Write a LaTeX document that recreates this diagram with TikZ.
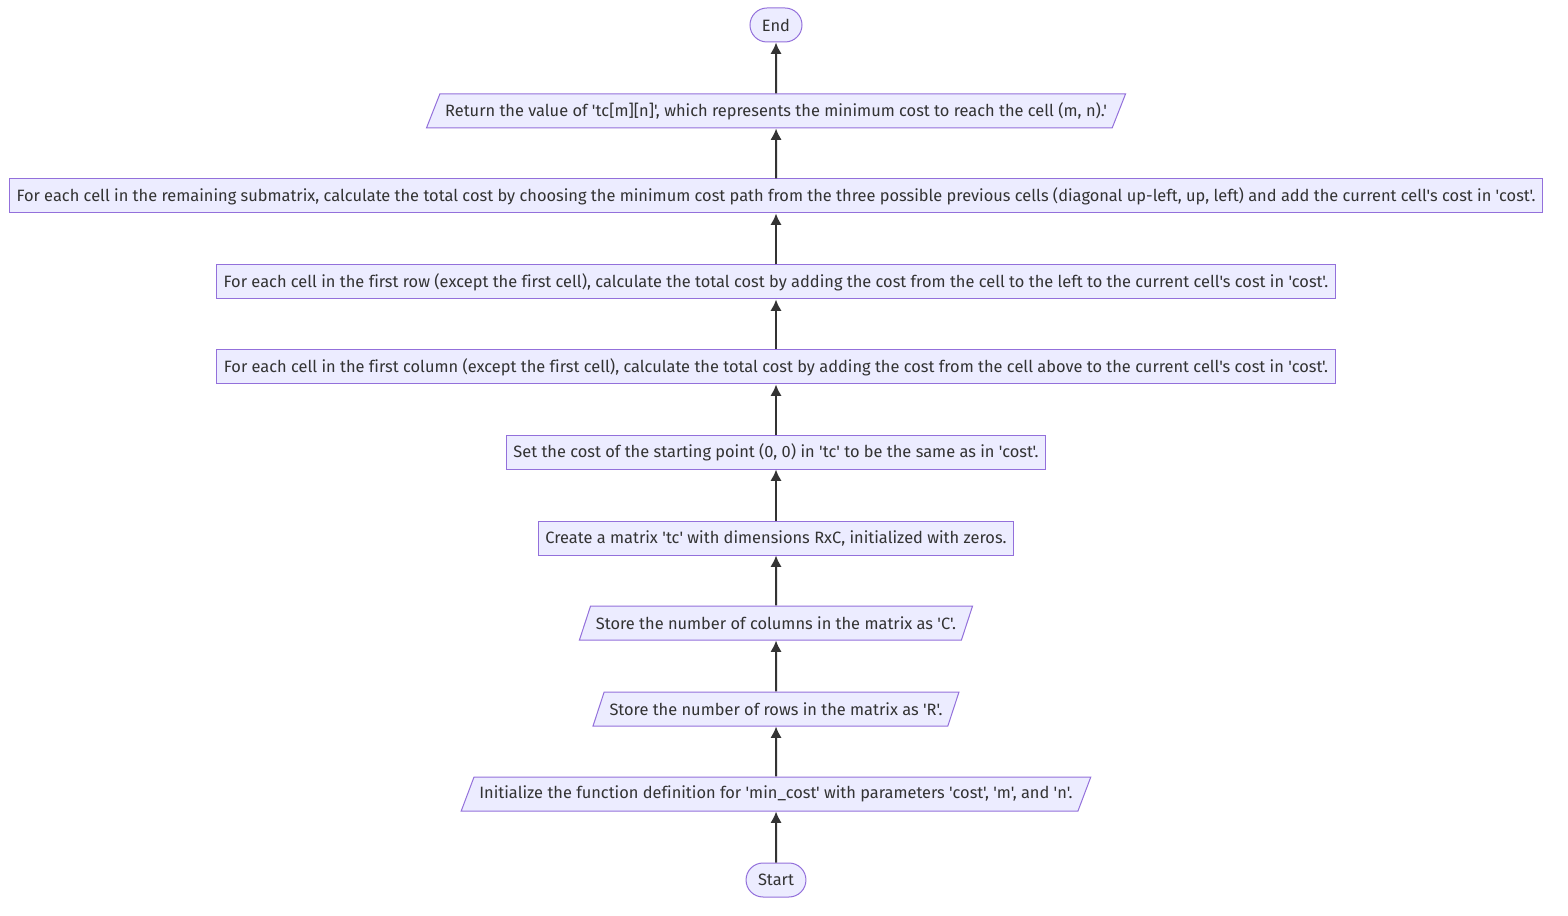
\documentclass[tikz,border=0pt]{standalone}
\usepackage{fontspec}
\setmainfont{Fira Sans}[Ligatures={TeXOff,NoCommon}]
\usepackage{xcolor}
\usetikzlibrary{shapes.geometric,arrows.meta}
\definecolor{boxfill}{HTML}{ECECFF}
\definecolor{boxline}{HTML}{9370DB}
\definecolor{ink}{HTML}{333333}

\begin{document}
\begin{tikzpicture}[x=0.75pt, y=-0.75pt, >={Latex[length=8.5pt,width=8.5pt]},
   every node/.style={font=\fontsize{12.3}{14}\selectfont, text=ink},
   terminal/.style={draw=boxline, fill=boxfill, line width=0.75pt, rectangle,
      rounded corners=12.75pt, minimum height=25.5pt, inner xsep=9pt},
   process/.style={draw=boxline, fill=boxfill, line width=0.75pt, rectangle,
      minimum height=25.5pt, inner xsep=5.5pt},
   io/.style={draw=boxline, fill=boxfill, line width=0.75pt, trapezium,
      trapezium left angle=63, trapezium right angle=117, trapezium stretches=true,
      minimum height=25.5pt, inner xsep=4pt},
   flow/.style={->, draw=ink, line width=1.5pt}]
   \useasboundingbox (0,0) rectangle (1568,916);

   % terminals
   \node[terminal] (start) at (776,880) {Start};
   \node[terminal] (stop) at (776,25) {End};

   % steps, bottom to top
   \node[io] (init) at (776,794) {Initialize the function definition for 'min\_cost' with parameters 'cost', 'm', and 'n'.};
   \node[io] (rows) at (776,709) {Store the number of rows in the matrix as 'R'.};
   \node[io] (cols) at (776,623) {Store the number of columns in the matrix as 'C'.};
   \node[process] (mktc) at (776,538) {Create a matrix 'tc' with dimensions RxC, initialized with zeros.};
   \node[process] (setcost) at (776,452) {Set the cost of the starting point (0, 0) in 'tc' to be the same as in 'cost'.};
   \node[process] (firstcol) at (776,367) {For each cell in the first column (except the first cell), calculate the total cost by adding the cost from the cell above to the current cell's cost in 'cost'.};
   \node[process] (firstrow) at (776,282) {For each cell in the first row (except the first cell), calculate the total cost by adding the cost from the cell to the left to the current cell's cost in 'cost'.};
   \node[process] (submat) at (776,196) {For each cell in the remaining submatrix, calculate the total cost by choosing the minimum cost path from the three possible previous cells (diagonal up-left, up, left) and add the current cell's cost in 'cost'.};
   \node[io] (ret) at (776,111) {Return the value of 'tc[m][n]', which represents the minimum cost to reach the cell (m, n).'};

   % connectors
   \draw[flow] (start) -- (init);
   \draw[flow] (init) -- (rows);
   \draw[flow] (rows) -- (cols);
   \draw[flow] (cols) -- (mktc);
   \draw[flow] (mktc) -- (setcost);
   \draw[flow] (setcost) -- (firstcol);
   \draw[flow] (firstcol) -- (firstrow);
   \draw[flow] (firstrow) -- (submat);
   \draw[flow] (submat) -- (ret);
   \draw[flow] (ret) -- (stop);
\end{tikzpicture}
\end{document}
